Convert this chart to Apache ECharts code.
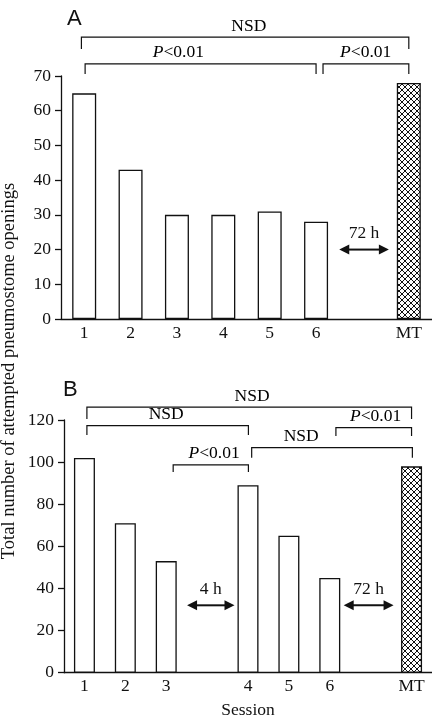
<!DOCTYPE html>
<html>
<head>
<meta charset="utf-8">
<script src="https://cdn.jsdelivr.net/npm/echarts@6/dist/echarts.min.js"></script>
<style>
  html, body { margin: 0; padding: 0; background: #fff; }
  #chart { width: 432px; height: 726px; }
</style>
</head>
<body>
<div id="chart"></div>
<script>
// panel A data
const sessionsA = ['1', '2', '3', '4', '5', '6', '', 'MT'];
const valuesA = [65, 43, 30, 30, 31, 28, null, 68];
// panel B data
const sessionsB = ['1', '2', '3', '', '4', '5', '6', '', 'MT'];
const valuesB = [102, 71, 53, null, 89, 65, 45, null, 98];

// brackets: [x start, x end, line value, end value, label x] (category units)
const bracketsA = [[-0.06, 7.0, 81.2, 77.8, 3.55], [0.02, 5.0, 73.5, 70.6, 2.03], [5.15, 7.0, 73.5, 70.6, 6.07]];
const bracketLabelsA = ['NSD', 'P', 'P'];
const bracketsB = [
  [0.06, 8.0, 126.1, 120.5, 4.1],
  [0.06, 4.01, 117.3, 112.9, 2.0],
  [6.15, 8.0, 116.4, 112.4, 7.12],
  [4.09, 8.02, 106.9, 102.1, 5.3],
  [2.17, 4.01, 98.7, 95.3, 3.17]
];
const bracketLabelsB = ['NSD', 'NSD', 'P', 'NSD', 'P'];

// time gap arrows: [x start, x end, value]
const arrowsA = [[5.5, 6.57, 20]];
const arrowLabelsA = ['72 h'];
const arrowsB = [[2.51, 3.67, 32], [6.34, 7.56, 32]];
const arrowLabelsB = ['4 h', '72 h'];

const SERIF = '"Liberation Serif", "DejaVu Serif", serif';
const SANS = '"Liberation Sans", Arial, sans-serif';
const INK = '#111';
const FS = 17.5;

// cross hatch fill for the MT bar
const hatch = document.createElement('canvas');
hatch.width = 6;
hatch.height = 6;
const hctx = hatch.getContext('2d');
hctx.fillStyle = '#fff';
hctx.fillRect(0, 0, 6, 6);
hctx.strokeStyle = '#111';
hctx.lineWidth = 1;
hctx.beginPath();
hctx.moveTo(0, 0); hctx.lineTo(6, 6);
hctx.moveTo(6, 0); hctx.lineTo(0, 6);
hctx.stroke();
const hatchFill = { image: hatch, repeat: 'repeat' };

const richP = {
  i: { fontFamily: SERIF, fontSize: FS, fontStyle: 'italic', color: INK },
  n: { fontFamily: SERIF, fontSize: FS, color: INK }
};

function bracketRenderer(labels) {
  return function (params, api) {
    const x1 = api.value(0), x2 = api.value(1), yl = api.value(2), ye = api.value(3), tx = api.value(4);
    const pL = api.coord([x1, yl]);
    const pR = api.coord([x2, yl]);
    const e = api.coord([x1, ye]);
    const t = api.coord([tx, yl]);
    const lab = labels[params.dataIndex];
    const txt = lab === 'P' ? '{i|P}{n|<0.01}' : '{n|' + lab + '}';
    return {
      type: 'group',
      children: [
        {
          type: 'polyline',
          shape: { points: [[pL[0], e[1]], pL, pR, [pR[0], e[1]]] },
          style: { stroke: INK, lineWidth: 1.2, fill: null }
        },
        {
          type: 'text',
          x: t[0], y: t[1] - 11,
          style: { text: txt, rich: richP, align: 'center', verticalAlign: 'middle' }
        }
      ]
    };
  };
}

function arrowRenderer(labels) {
  return function (params, api) {
    const a = api.coord([api.value(0), api.value(2)]);
    const b = api.coord([api.value(1), api.value(2)]);
    const hl = 10, hh = 5;
    return {
      type: 'group',
      children: [
        { type: 'line', shape: { x1: a[0] + hl - 1, y1: a[1], x2: b[0] - hl + 1, y2: b[1] }, style: { stroke: INK, lineWidth: 2 } },
        { type: 'polygon', shape: { points: [[a[0], a[1]], [a[0] + hl, a[1] - hh], [a[0] + hl, a[1] + hh]] }, style: { fill: INK } },
        { type: 'polygon', shape: { points: [[b[0], b[1]], [b[0] - hl, b[1] - hh], [b[0] - hl, b[1] + hh]] }, style: { fill: INK } },
        {
          type: 'text', x: (a[0] + b[0]) / 2, y: a[1] - 16,
          style: { text: labels[params.dataIndex], fontFamily: SERIF, fontSize: FS, fill: INK, align: 'center', verticalAlign: 'middle' }
        }
      ]
    };
  };
}

function barData(sessions, values) {
  return values.map((v, i) => sessions[i] === 'MT' ? { value: v, itemStyle: { color: hatchFill } } : v);
}

const catAxis = (grid, data, extra) => Object.assign({
  type: 'category', gridIndex: grid, data: data,
  axisLine: { onZero: false, lineStyle: { color: INK, width: 1.3 } },
  axisTick: { show: false },
  axisLabel: { fontFamily: SERIF, fontSize: FS, color: INK, margin: 5 },
  splitLine: { show: false }
}, extra || {});

const valAxis = (grid, max, interval) => ({
  type: 'value', gridIndex: grid, min: 0, max: max, interval: interval,
  axisLine: { show: true, onZero: false, lineStyle: { color: INK, width: 1.3 } },
  axisTick: { show: true, length: 6, lineStyle: { color: INK, width: 1.3 } },
  axisLabel: { fontFamily: SERIF, fontSize: FS, color: INK, margin: 10 },
  splitLine: { show: false }
});

const hiddenX = (grid, max) => ({ type: 'value', gridIndex: grid, min: -0.5, max: max, show: false });

const barStyle = { color: '#fff', borderColor: INK, borderWidth: 1.3 };

const option = {
  animation: false,
  backgroundColor: '#fff',
  title: [
    { text: 'A', left: 62, top: 3, textStyle: { fontFamily: SANS, fontSize: 22, fontWeight: 'normal', color: INK } },
    { text: 'B', left: 58, top: 374, textStyle: { fontFamily: SANS, fontSize: 22, fontWeight: 'normal', color: INK } }
  ],
  grid: [
    { left: 61, top: 76, width: 371, height: 243 },
    { left: 64, top: 420, width: 371, height: 252.7 }
  ],
  xAxis: [
    catAxis(0, sessionsA),
    hiddenX(0, 7.5),
    catAxis(1, sessionsB, { name: 'Session', nameLocation: 'middle', nameGap: 29, nameTextStyle: { fontFamily: SERIF, fontSize: FS, color: INK } }),
    hiddenX(1, 8.5)
  ],
  yAxis: [valAxis(0, 70, 10), valAxis(1, 120, 20)],
  graphic: [{
    type: 'text', x: 9, y: 371, rotation: Math.PI / 2,
    style: { text: 'Total number of attempted pneumostome openings', fontFamily: SERIF, fontSize: 18.5, fill: INK, align: 'center', verticalAlign: 'middle' }
  }],
  series: [
    { type: 'bar', xAxisIndex: 0, yAxisIndex: 0, barWidth: 24, data: barData(sessionsA, valuesA), itemStyle: barStyle },
    { type: 'bar', xAxisIndex: 2, yAxisIndex: 1, barWidth: 21, data: barData(sessionsB, valuesB), itemStyle: barStyle },
    { type: 'custom', xAxisIndex: 1, yAxisIndex: 0, clip: false, renderItem: bracketRenderer(bracketLabelsA), data: bracketsA },
    { type: 'custom', xAxisIndex: 3, yAxisIndex: 1, clip: false, renderItem: bracketRenderer(bracketLabelsB), data: bracketsB },
    { type: 'custom', xAxisIndex: 1, yAxisIndex: 0, clip: false, renderItem: arrowRenderer(arrowLabelsA), data: arrowsA },
    { type: 'custom', xAxisIndex: 3, yAxisIndex: 1, clip: false, renderItem: arrowRenderer(arrowLabelsB), data: arrowsB }
  ]
};

const chart = echarts.init(document.getElementById('chart'));
chart.setOption(option);
</script>
</body>
</html>
